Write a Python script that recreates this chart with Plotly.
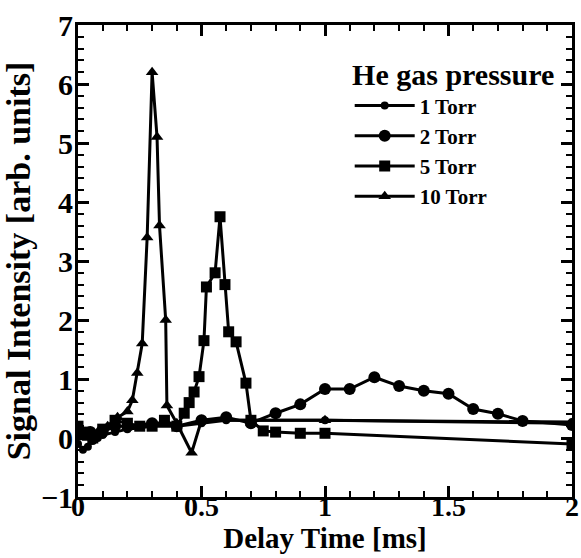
import plotly.graph_objects as go

# Data
t1_x = [0.0, 0.02, 0.04, 0.06, 0.08, 0.1, 0.15, 0.2, 0.3, 0.4, 0.5, 0.6, 0.7, 1.0, 2.0]
t1_y = [-0.1, -0.2, -0.15, -0.05, 0.0, 0.05, 0.1, 0.15, 0.2, 0.2, 0.25, 0.3, 0.3, 0.3, 0.27]

t2_x = [0.0, 0.05, 0.1, 0.15, 0.2, 0.3, 0.4, 0.5, 0.6, 0.7, 0.8, 0.9, 1.0, 1.1, 1.2, 1.3, 1.4, 1.5, 1.6, 1.7, 1.8, 2.0]
t2_y = [0.05, 0.1, 0.1, 0.2, 0.2, 0.25, 0.2, 0.3, 0.35, 0.25, 0.42, 0.57, 0.83, 0.83, 1.03, 0.88, 0.8, 0.75, 0.49, 0.41, 0.29, 0.22]

t5_x = [0.0, 0.03, 0.06, 0.1, 0.15, 0.2, 0.25, 0.3, 0.35, 0.4, 0.43, 0.45, 0.47, 0.49, 0.51, 0.52, 0.555,
        0.575, 0.595, 0.61, 0.64, 0.68, 0.7, 0.75, 0.8, 0.9, 1.0, 2.0]
t5_y = [0.2, 0.1, 0.0, 0.15, 0.3, 0.25, 0.2, 0.2, 0.3, 0.2, 0.42, 0.6, 0.78, 1.04, 1.65, 2.56, 2.8,
        3.75, 2.6, 1.8, 1.63, 0.93, 0.3, 0.12, 0.1, 0.08, 0.08, -0.1]

t10_x = [0.0, 0.04, 0.08, 0.12, 0.16, 0.2, 0.22, 0.24, 0.26, 0.28, 0.30, 0.32, 0.33, 0.355, 0.36, 0.40, 0.46, 0.5, 1.0, 2.0]
t10_y = [0.05, 0.0, 0.1, 0.2, 0.35, 0.45, 0.64, 1.1, 1.6, 3.4, 6.2, 5.1, 3.6, 2.0, 0.55, 0.25, -0.25, 0.3, 0.3, 0.25]

x_ticks = [0, 0.5, 1, 1.5, 2]
x_ticktext = ["0", "0.5", "1", "1.5", "2"]
x_range = [0, 2]
y_range = [-1, 7]

series = [
    ("1 Torr", t1_x, t1_y, "circle", 8),
    ("2 Torr", t2_x, t2_y, "circle", 12),
    ("5 Torr", t5_x, t5_y, "square", 11),
    ("10 Torr", t10_x, t10_y, "triangle-up", 11),
]

fig = go.Figure()
# transparent helper traces so the tick-only overlay axes are drawn
for k in (2, 3, 4):
    fig.add_trace(go.Scatter(x=[x_range[0]], y=[y_range[0]], xaxis=f"x{k}", yaxis=f"y{k}",
                             mode="markers", marker=dict(opacity=0, size=1),
                             showlegend=False, hoverinfo="skip"))
for name, xs, ys, sym, sz in series:
    fig.add_trace(go.Scatter(
        x=xs, y=ys, name=name, mode="lines+markers",
        line=dict(color="black", width=3),
        marker=dict(symbol=sym, size=sz, color="black"),
    ))

serif = "Liberation Serif"
axis_common = dict(
    showline=True, linecolor="black", linewidth=3, mirror="allticks",
    ticks="inside", ticklen=11, tickwidth=3, tickcolor="black",
    showgrid=False, zeroline=False, automargin=False,
)
tick_only = dict(
    showline=False, mirror="allticks", ticks="inside", tickcolor="black",
    showgrid=False, zeroline=False, showticklabels=False, automargin=False,
    tickmode="linear", tick0=0,
)
minor_t = dict(ticklen=6, tickwidth=2)
major_t = dict(ticklen=11, tickwidth=3)

fig.update_layout(
    width=581, height=558,
    margin=dict(l=78, r=9, t=25, b=61),
    paper_bgcolor="white", plot_bgcolor="white",
    xaxis=dict(range=x_range, tickmode="array", tickvals=x_ticks, ticktext=x_ticktext,
               ticklabelstandoff=-18,
               tickfont=dict(family=serif, size=28, color="black", weight="bold"),
               title=dict(text="Delay Time [ms]", standoff=0,
                          font=dict(family=serif, size=29, color="black", weight="bold")),
               **axis_common),
    yaxis=dict(range=y_range, tickmode="linear", tick0=0, dtick=1,
               ticklabelstandoff=-4,
               tickfont=dict(family=serif, size=30, color="black", weight="bold"),
               title=dict(text="Signal Intensity [arb. units]", standoff=2,
                          font=dict(family=serif, size=34, color="black", weight="bold")),
               **axis_common),
    xaxis2=dict(range=x_range, overlaying="x", side="bottom", anchor="y2", dtick=0.1, **minor_t, **tick_only),
    yaxis2=dict(range=y_range, overlaying="y", side="left", anchor="x2", dtick=0.2, **minor_t, **tick_only),
    xaxis4=dict(range=x_range, overlaying="x", side="top", anchor="y4", dtick=0.1, **minor_t, **tick_only),
    yaxis4=dict(range=y_range, overlaying="y", side="right", anchor="x4", dtick=0.2, **minor_t, **tick_only),
    xaxis3=dict(range=x_range, overlaying="x", side="top", anchor="y3", dtick=0.5, **major_t, **tick_only),
    yaxis3=dict(range=y_range, overlaying="y", side="right", anchor="x3", dtick=1, **major_t, **tick_only),
    legend=dict(
        x=0.55, y=0.955, xanchor="left", yanchor="top",
        bgcolor="rgba(0,0,0,0)",
        font=dict(family=serif, size=21, color="black", weight="bold"),
        title=dict(text="He gas pressure", side="top center",
                   font=dict(family=serif, size=30, color="black", weight="bold")),
        itemwidth=60, tracegroupgap=0,
    ),
    showlegend=True,
)

fig.write_html("out.html")
